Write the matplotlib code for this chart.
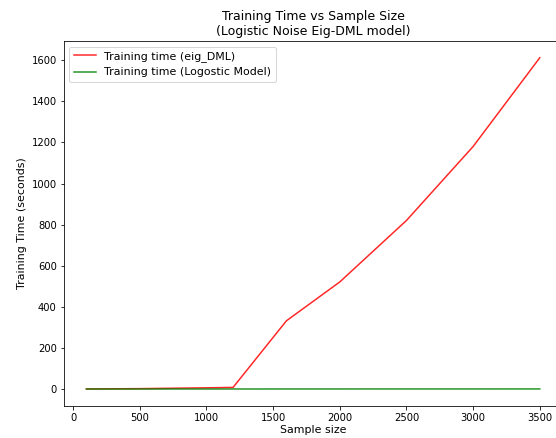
import numpy as np
import matplotlib
matplotlib.use('Agg')
import matplotlib.pyplot as plt

# sample sizes used in the experiment
sample_size = [100, 500, 1000, 1200, 1600, 2000, 2500, 3000, 3500]
# training time in seconds
time_eig_dml = [0.5, 2, 6, 8, 332, 521, 820, 1180, 1612]
time_logistic = [0.1, 0.2, 0.3, 0.3, 0.4, 0.4, 0.5, 0.5, 0.6]

fig = plt.figure(figsize=(556 / 72, 438 / 72), dpi=72)
ax = fig.add_axes([0.1146, 0.074, 0.897, 0.832])
ax.plot(sample_size, time_eig_dml, color='r', alpha=0.85, label='Training time (eig_DML)')
ax.plot(sample_size, time_logistic, color='g', alpha=0.85, label='Training time (Logostic Model)')
ax.set_xlabel('Sample size', fontsize=11, labelpad=2)
ax.set_ylabel('Training Time (seconds)', fontsize=11)
ax.set_title('Training Time vs Sample Size\n(Logistic Noise Eig-DML model)', fontsize=12.5)
ax.legend(loc='upper left', fontsize=11)
plt.savefig('out.png', dpi=72)
